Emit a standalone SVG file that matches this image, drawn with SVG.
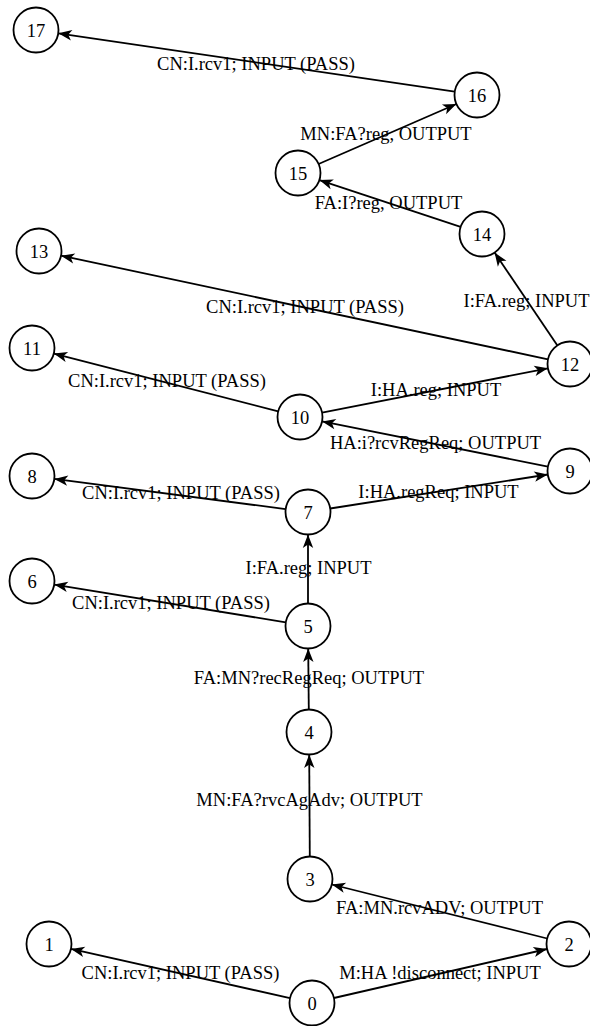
<svg xmlns="http://www.w3.org/2000/svg" width="590" height="1026" viewBox="0 0 590 1026">
  <style>
    .node circle { fill: #ffffff; stroke: #000000; stroke-width: 1.8; }
    .node text { font-family: "Liberation Serif", "Times New Roman", serif; font-size: 18.5px; text-anchor: middle; fill: #000000; }
    .edge line { stroke: #000000; stroke-width: 1.8; marker-end: url(#arrow); }
    .edge text { font-family: "Liberation Serif", "Times New Roman", serif; font-size: 18.5px; text-anchor: middle; fill: #000000; }
  </style>
  <defs>
    <marker id="arrow" markerUnits="userSpaceOnUse" markerWidth="16" markerHeight="12" viewBox="0 0 16 12" refX="15" refY="6" orient="auto">
      <path d="M15,6 L1.5,0.8 L5,6 L1.5,11.2 Z" fill="#000000"/>
    </marker>
  </defs>
  <rect width="590" height="1026" fill="#ffffff"/>

  <!-- transitions -->
  <g id="edges">
    <g class="edge" id="e0-1"><line x1="290.0" y1="998.1" x2="71.0" y2="948.9"/><text x="180.5" y="979">CN:I.rcv1; INPUT (PASS)</text></g>
    <g class="edge" id="e0-2"><line x1="333.9" y1="998.0" x2="547.1" y2="949.0"/><text x="440" y="979">M:HA !disconnect; INPUT</text></g>
    <g class="edge" id="e2-3"><line x1="547.2" y1="938.5" x2="331.8" y2="884.5"/><text x="439.5" y="914">FA:MN.rcvADV; OUTPUT</text></g>
    <g class="edge" id="e3-4"><line x1="309.8" y1="856.5" x2="309.2" y2="754.5"/><text x="309.5" y="806">MN:FA?rvcAgAdv; OUTPUT</text></g>
    <g class="edge" id="e4-5"><line x1="308.8" y1="709.5" x2="308.2" y2="648.5"/><text x="309" y="684">FA:MN?recRegReq; OUTPUT</text></g>
    <g class="edge" id="e5-6"><line x1="285.8" y1="622.4" x2="54.2" y2="584.6"/><text x="171" y="609">CN:I.rcv1; INPUT (PASS)</text></g>
    <g class="edge" id="e5-7"><line x1="308" y1="603.5" x2="308" y2="534.5"/><text x="308.5" y="574">I:FA.reg; INPUT</text></g>
    <g class="edge" id="e7-8"><line x1="285.7" y1="509.1" x2="54.3" y2="478.9"/><text x="181" y="499">CN:I.rcv1; INPUT (PASS)</text></g>
    <g class="edge" id="e7-9"><line x1="330.2" y1="508.5" x2="547.8" y2="474.5"/><text x="438.5" y="498">I:HA.regReq; INPUT</text></g>
    <g class="edge" id="e9-10"><line x1="547.9" y1="466.6" x2="322.1" y2="421.4"/><text x="435.5" y="449">HA:i?rcvRegReq; OUTPUT</text></g>
    <g class="edge" id="e10-11"><line x1="278.2" y1="411.4" x2="53.8" y2="353.6"/><text x="167" y="387">CN:I.rcv1; INPUT (PASS)</text></g>
    <g class="edge" id="e10-12"><line x1="322.1" y1="412.7" x2="547.9" y2="368.3"/><text x="436" y="396">I:HA.reg; INPUT</text></g>
    <g class="edge" id="e12-13"><line x1="548.0" y1="359.3" x2="61.0" y2="255.7"/><text x="305" y="313">CN:I.rcv1; INPUT (PASS)</text></g>
    <g class="edge" id="e12-14"><line x1="557.4" y1="345.4" x2="494.6" y2="252.6"/><text x="526.5" y="307">I:FA.reg; INPUT</text></g>
    <g class="edge" id="e14-15"><line x1="460.6" y1="226.9" x2="319.4" y2="180.1"/><text x="388.5" y="209">FA:I?reg, OUTPUT</text></g>
    <g class="edge" id="e15-16"><line x1="318.6" y1="164.0" x2="456.4" y2="104.0"/><text x="386" y="140">MN:FA?reg, OUTPUT</text></g>
    <g class="edge" id="e16-17"><line x1="454.7" y1="91.7" x2="58.3" y2="33.3"/><text x="256" y="70">CN:I.rcv1; INPUT (PASS)</text></g>
  </g>

  <!-- states -->
  <g class="node" id="n0"><circle cx="312" cy="1003" r="22.5"/><text x="312" y="1009.5">0</text></g>
  <g class="node" id="n1"><circle cx="49" cy="944" r="22.5"/><text x="49" y="950.5">1</text></g>
  <g class="node" id="n2"><circle cx="569" cy="944" r="22.5"/><text x="569" y="950.5">2</text></g>
  <g class="node" id="n3"><circle cx="310" cy="879" r="22.5"/><text x="310" y="885.5">3</text></g>
  <g class="node" id="n4"><circle cx="309" cy="732" r="22.5"/><text x="309" y="738.5">4</text></g>
  <g class="node" id="n5"><circle cx="308" cy="626" r="22.5"/><text x="308" y="632.5">5</text></g>
  <g class="node" id="n6"><circle cx="32" cy="581" r="22.5"/><text x="32" y="587.5">6</text></g>
  <g class="node" id="n7"><circle cx="308" cy="512" r="22.5"/><text x="308" y="518.5">7</text></g>
  <g class="node" id="n8"><circle cx="32" cy="476" r="22.5"/><text x="32" y="482.5">8</text></g>
  <g class="node" id="n9"><circle cx="570" cy="471" r="22.5"/><text x="570" y="477.5">9</text></g>
  <g class="node" id="n10"><circle cx="300" cy="417" r="22.5"/><text x="300" y="423.5">10</text></g>
  <g class="node" id="n11"><circle cx="32" cy="348" r="22.5"/><text x="32" y="354.5">11</text></g>
  <g class="node" id="n12"><circle cx="570" cy="364" r="22.5"/><text x="570" y="370.5">12</text></g>
  <g class="node" id="n13"><circle cx="39" cy="251" r="22.5"/><text x="39" y="257.5">13</text></g>
  <g class="node" id="n14"><circle cx="482" cy="234" r="22.5"/><text x="482" y="240.5">14</text></g>
  <g class="node" id="n15"><circle cx="298" cy="173" r="22.5"/><text x="298" y="179.5">15</text></g>
  <g class="node" id="n16"><circle cx="477" cy="95" r="22.5"/><text x="477" y="101.5">16</text></g>
  <g class="node" id="n17"><circle cx="36" cy="30" r="22.5"/><text x="36" y="36.5">17</text></g>
</svg>
